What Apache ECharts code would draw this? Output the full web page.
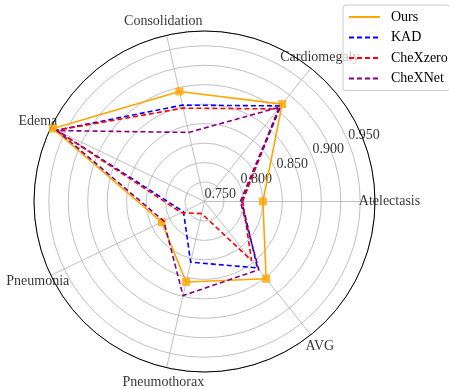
<!DOCTYPE html>
<html>
<head>
<meta charset="utf-8">
<script src="https://cdn.jsdelivr.net/npm/echarts@6/dist/echarts.min.js"></script>
<style>
  html, body { margin: 0; padding: 0; background: #fff; }
  #chart { width: 449px; height: 389px; }
</style>
</head>
<body>
<div id="chart"></div>
<script>
var categories = ["Atelectasis", "Cardiomegaly", "Consolidation", "Edema", "Pneumonia", "Pneumothorax", "AVG"];
var ours = [0.825, 0.910, 0.895, 0.966, 0.811, 0.856, 0.877];
var kad = [0.798, 0.907, 0.877, 0.961, 0.780, 0.830, 0.859];
var chexzero = [0.799, 0.902, 0.873, 0.961, 0.783, 0.766, 0.847];
var chexnet = [0.796, 0.905, 0.841, 0.960, 0.808, 0.874, 0.862];
var rTicks = [0.75, 0.80, 0.85, 0.90, 0.95];

var step = 360 / categories.length;
var font = "Liberation Serif";

// [radius, angle] pairs, closed back to the first category
function closed(vals) {
  var pts = vals.map(function(v, i) { return [v, i * step]; });
  pts.push([vals[0], 360]);
  return pts;
}

function dashed(name, vals, color) {
  return {
    name: name,
    type: "line",
    coordinateSystem: "polar",
    polarIndex: 0,
    data: closed(vals),
    symbol: "none",
    z: 4,
    lineStyle: { color: color, width: 1.6, type: [5, 3] },
    itemStyle: { color: color }
  };
}

var chart = echarts.init(document.getElementById("chart"));
chart.setOption({
  animation: false,
  backgroundColor: "#fff",
  polar: [
    { center: [204.5, 201.5], radius: 170.5 },
    { center: [204.5, 201.5], radius: 185 }
  ],
  angleAxis: [
    {
      polarIndex: 0,
      type: "value",
      min: 0,
      max: 360,
      interval: step,
      startAngle: 0,
      clockwise: false,
      axisLine: { lineStyle: { color: "#000", width: 1 } },
      axisTick: { show: false },
      axisLabel: { show: false },
      splitLine: { lineStyle: { color: "#b0b0b0", width: 0.8 } }
    },
    { polarIndex: 1, type: "value", min: 0, max: 360, startAngle: 0, clockwise: false, show: false }
  ],
  radiusAxis: [
    {
      polarIndex: 0,
      min: 0.75,
      max: 0.969,
      interval: 0.025,
      axisLine: { show: false },
      axisTick: { show: false },
      axisLabel: { show: false },
      splitLine: { lineStyle: { color: "#b0b0b0", width: 0.8 } }
    },
    { polarIndex: 1, min: 0, max: 1, show: false }
  ],
  legend: {
    data: ["Ours", "KAD", "CheXzero", "CheXNet"],
    orient: "vertical",
    left: 343,
    top: 5,
    padding: [4, 2, 4, 5],
    itemWidth: 31,
    itemHeight: 12,
    itemGap: 4.5,
    itemStyle: { opacity: 0 },
    backgroundColor: "rgba(255,255,255,0.7)",
    borderColor: "#cccccc",
    borderWidth: 1,
    borderRadius: 3,
    textStyle: { fontFamily: font, fontSize: 14, color: "#000", lineHeight: 16, padding: [0, 0, 0, 6] }
  },
  series: [
    {
      name: "Ours",
      type: "line",
      coordinateSystem: "polar",
      polarIndex: 0,
      data: closed(ours),
      symbol: "none",
      z: 3,
      lineStyle: { color: "#ffa500", width: 1.6 },
      itemStyle: { color: "#ffa500" }
    },
    {
      name: "ours-marks",
      type: "scatter",
      coordinateSystem: "polar",
      polarIndex: 0,
      data: ours.map(function(v, i) { return [v, i * step]; }),
      symbol: "rect",
      symbolSize: 8,
      z: 3,
      itemStyle: { color: "#ffa500" },
      silent: true
    },
    dashed("KAD", kad, "#0000ff"),
    dashed("CheXzero", chexzero, "#ff0000"),
    dashed("CheXNet", chexnet, "#800080"),
    {
      // radial tick labels at 22.5 deg
      name: "r-labels",
      type: "scatter",
      coordinateSystem: "polar",
      polarIndex: 0,
      data: rTicks.map(function(v) { return [v, 22.5]; }),
      symbolSize: 0,
      z: 1,
      silent: true,
      label: {
        show: true,
        position: [0, 0],
        align: "left",
        verticalAlign: "bottom",
        formatter: function(p) { return p.value[0].toFixed(3); },
        fontFamily: font,
        fontSize: 14,
        color: "#000"
      }
    },
    {
      // category names just outside the circle
      name: "theta-labels",
      type: "scatter",
      coordinateSystem: "polar",
      polarIndex: 1,
      data: categories.map(function(c, i) { return { name: c, value: [1, i * step] }; }),
      symbolSize: 0,
      z: 1,
      silent: true,
      label: {
        show: true,
        position: "inside",
        formatter: "{b}",
        fontFamily: font,
        fontSize: 14,
        color: "#000"
      }
    }
  ]
});
</script>
</body>
</html>
